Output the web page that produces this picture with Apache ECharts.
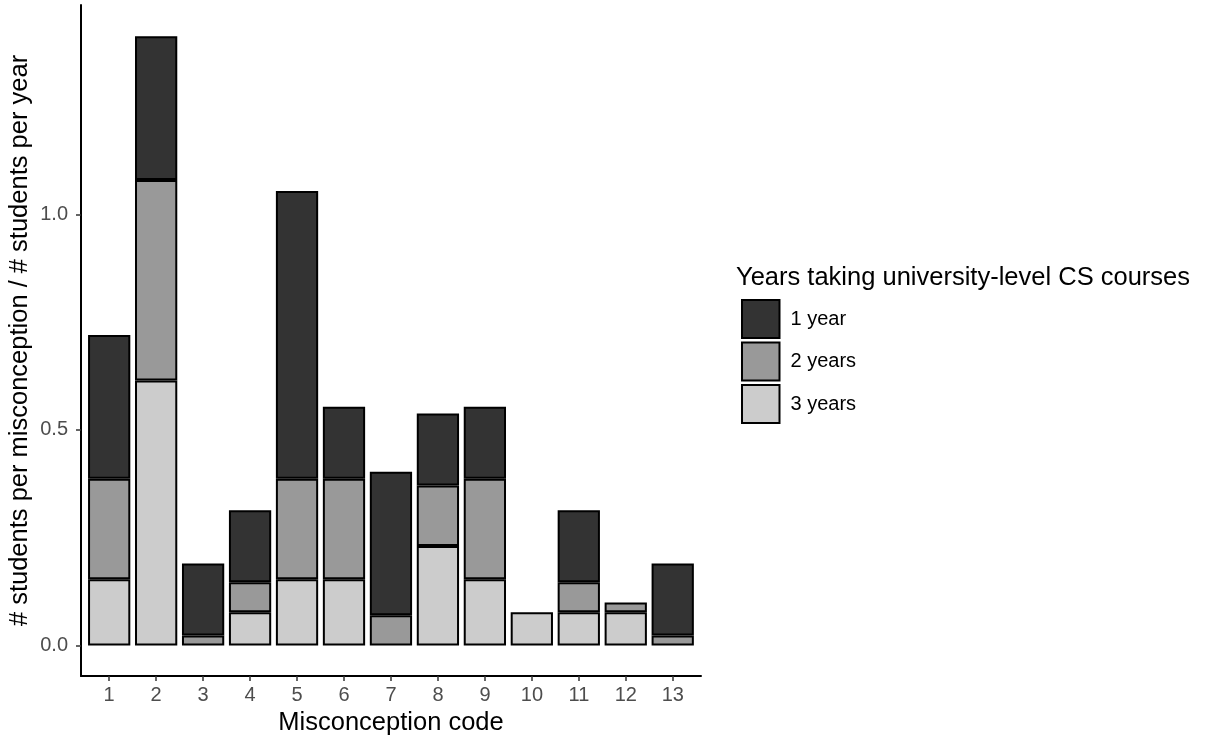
<!DOCTYPE html>
<html>
<head>
<meta charset="utf-8">
<script src="https://cdn.jsdelivr.net/npm/echarts@6/dist/echarts.min.js"></script>
<style>
html,body{margin:0;padding:0;background:#fff;}
#chart{width:1219px;height:737px;}
</style>
</head>
<body>
<div id="chart"></div>
<script>
var codes = ['1','2','3','4','5','6','7','8','9','10','11','12','13'];
var year1 = [0.333,0.333,0.167,0.167,0.667,0.167,0.333,0.167,0.167,0,0.167,0,0.167];
var year2 = [0.233,0.465,0.023,0.070,0.233,0.233,0.070,0.140,0.233,0,0.070,0.023,0.023];
var year3 = [0.154,0.615,0,0.077,0.154,0.154,0,0.231,0.154,0.077,0.077,0.077,0];
var yTicks = [0,0.5,1.0];
var xTicks = [1,2,3,4,5,6,7,8,9,10,11,12,13];
var groupNames = ['1 year','2 years','3 years'];
var groupColors = ['#333333','#999999','#cccccc'];

var FONT = 'Liberation Sans, Arial, sans-serif';
var YMIN = -0.0707, YMAX = 1.4857;

function toData(arr){
  return arr.map(function(v){ return v === 0 ? '-' : v; });
}
function mk(name, arr, color){
  return {
    name: name, type: 'bar', stack: 'total', barWidth: '90%',
    xAxisIndex: 1, yAxisIndex: 1,
    data: toData(arr),
    itemStyle: {color: color, borderColor: '#000', borderWidth: 2},
    emphasis: {disabled: true}
  };
}
var series = [
  mk(groupNames[2], year3, groupColors[2]),
  mk(groupNames[1], year2, groupColors[1]),
  mk(groupNames[0], year1, groupColors[0])
];

var chart = echarts.init(document.getElementById('chart'));
chart.setOption({
  animation: false,
  backgroundColor: '#fff',
  title: {
    text: 'Years taking university-level CS courses',
    left: 736, top: 265, padding: 0,
    textStyle: {fontFamily: FONT, fontSize: 25.5, fontWeight: 'normal', color: '#000'}
  },
  legend: {
    data: groupNames,
    orient: 'vertical',
    left: 741, top: 299, padding: 0,
    itemWidth: 37.5, itemHeight: 38, itemGap: 2.5,
    icon: 'rect',
    textStyle: {fontFamily: FONT, fontSize: 20, color: '#000', padding: [0,0,0,6]},
    selectedMode: false
  },
  grid: [
    {left: 81, top: 5, right: 518, bottom: 61, outerBoundsMode: 'none', containLabel: false},
    {left: 85.7, top: 5, right: 522.8, bottom: 61, outerBoundsMode: 'none', containLabel: false}
  ],
  xAxis: [{
    gridIndex: 0, type: 'value', min: 0.4, max: 13.6,
    name: 'Misconception code', nameLocation: 'middle', nameGap: 34,
    nameTextStyle: {fontFamily: FONT, fontSize: 25.5, color: '#000'},
    axisLine: {show: true, onZero: false, lineStyle: {color: '#000', width: 2}},
    axisTick: {show: true, length: 5, customValues: xTicks, lineStyle: {color: '#333', width: 1.5}},
    axisLabel: {customValues: xTicks, fontFamily: FONT, fontSize: 20, color: '#4d4d4d', margin: 9},
    splitLine: {show: false}
  }, {
    gridIndex: 1, type: 'category', data: codes,
    boundaryGap: true,
    axisLine: {show: false}, axisTick: {show: false}, axisLabel: {show: false},
    splitLine: {show: false}
  }],
  yAxis: [{
    gridIndex: 0, type: 'value', min: YMIN, max: YMAX,
    name: '# students per misconception / # students per year',
    nameLocation: 'middle', nameGap: 48, nameMoveOverlap: false,
    nameTextStyle: {fontFamily: FONT, fontSize: 25.5, color: '#000'},
    axisLine: {show: true, onZero: false, lineStyle: {color: '#000', width: 2}},
    axisTick: {show: true, length: 5, customValues: yTicks, lineStyle: {color: '#333', width: 1.5}},
    axisLabel: {customValues: yTicks, fontFamily: FONT, fontSize: 20, color: '#4d4d4d', margin: 13,
      formatter: function(v){ return v.toFixed(1); }},
    splitLine: {show: false}
  }, {
    gridIndex: 1, type: 'value', min: YMIN, max: YMAX,
    axisLine: {show: false}, axisTick: {show: false}, axisLabel: {show: false},
    splitLine: {show: false}
  }],
  series: series
});
</script>
</body>
</html>
